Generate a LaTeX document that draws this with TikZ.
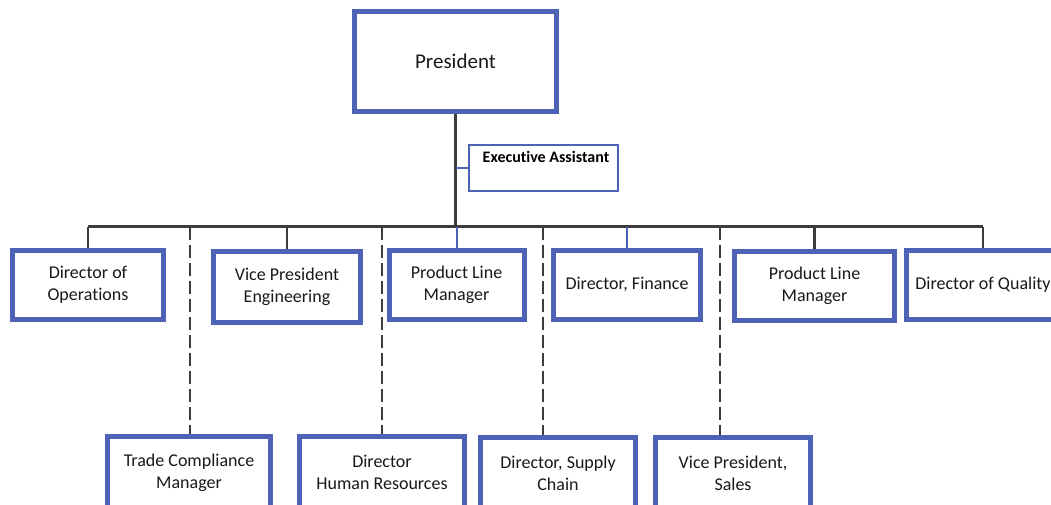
\documentclass[tikz,border=0pt]{standalone}
\usepackage{fontspec}
\setmainfont{Carlito}[Ligatures=CommonOff]
\definecolor{boxblue}{RGB}{78,99,181}
\definecolor{linegray}{RGB}{60,60,60}
\tikzset{
  orgbox/.style={draw=boxblue, line width=5pt, fill=white, align=center,
    minimum height=69pt, inner sep=0pt, text=black!90,
    font=\fontsize{18}{22}\selectfont},
  topbox/.style={orgbox, line width=5.5pt, minimum height=100pt,
    font=\fontsize{21}{25}\selectfont},
  assistbox/.style={draw=boxblue, line width=2.5pt, fill=white,
    minimum width=149pt, minimum height=46pt, inner sep=0pt},
  solidlink/.style={draw=linegray, line width=2.6pt},
  bluelink/.style={draw=boxblue, line width=2pt},
  dottedlink/.style={draw=linegray, line width=2.6pt, dash pattern=on 13pt off 5pt},
}
\begin{document}
\begin{tikzpicture}[x=1pt, y=-1pt]
  \useasboundingbox (0,0) rectangle (1051,504);
  \clip (0,0) rectangle (1051,504);

  % reporting bar and the points where the dotted lines leave it
  \coordinate (barL) at (88,226.5);
  \coordinate (dashA) at (190,226.5);
  \coordinate (dashB) at (382,226.5);
  \coordinate (dashC) at (543,226.5);
  \coordinate (dashD) at (720,226.5);

  % top of the chart
  \node[topbox, minimum width=202pt] (pres) at (455.5,61.5) {President};
  \node[assistbox] (ea) at (543.5,168) {};
  \node[font=\fontsize{16}{19}\bfseries\selectfont, inner sep=0pt, anchor=base]
    (eat) at (546,162) {Executive Assistant};

  % first row of reports
  \node[orgbox, minimum width=151pt] (ops) at (88,285) {Director of\\Operations};
  \node[orgbox, minimum width=147pt, minimum height=71pt] (eng) at (287,286.5) {Vice President\\Engineering};
  \node[orgbox, minimum width=135pt] (plm) at (456.5,285) {Product Line\\Manager};
  \node[orgbox, minimum width=147pt] (fin) at (627,284.5) {Director, Finance};
  \node[orgbox, minimum width=160pt] (plmb) at (814.5,285.5) {Product Line\\Manager};
  \node[orgbox, minimum width=153pt] (qual) at (983,285) {Director of Quality};

  % second row of reports
  \node[orgbox, minimum width=163pt, minimum height=72pt] (tcm) at (189,472.5) {Trade Compliance\\Manager};
  \node[orgbox, minimum width=165pt, minimum height=72pt] (dhr) at (382,472.5) {Director\\Human Resources};
  \node[orgbox, minimum width=155pt, minimum height=72pt] (dsc) at (558,473.5) {Director, Supply\\Chain};
  \node[orgbox, minimum width=155pt, minimum height=72pt] (vps) at (733,473.5) {Vice President,\\Sales};

  % connectors
  \draw[solidlink] (pres.south) -- (pres.south |- barL);
  \draw[bluelink] (ea.west -| pres.south) -- (ea.west);
  \draw[solidlink] (ops.north |- barL) -- (qual.north |- barL);
  \draw[solidlink] (ops.north) -- (ops.north |- barL);
  \draw[solidlink] (eng.north) -- (eng.north |- barL);
  \draw[bluelink] (plm.north) -- (plm.north |- barL);
  \draw[bluelink] (fin.north) -- (fin.north |- barL);
  \draw[solidlink] (plmb.north) -- (plmb.north |- barL);
  \draw[solidlink] (qual.north) -- (qual.north |- barL);
  \draw[dottedlink] (dashA) -- (dashA |- tcm.north);
  \draw[dottedlink] (dashB) -- (dashB |- dhr.north);
  \draw[dottedlink] (dashC) -- (dashC |- dsc.north);
  \draw[dottedlink] (dashD) -- (dashD |- vps.north);
\end{tikzpicture}
\end{document}
